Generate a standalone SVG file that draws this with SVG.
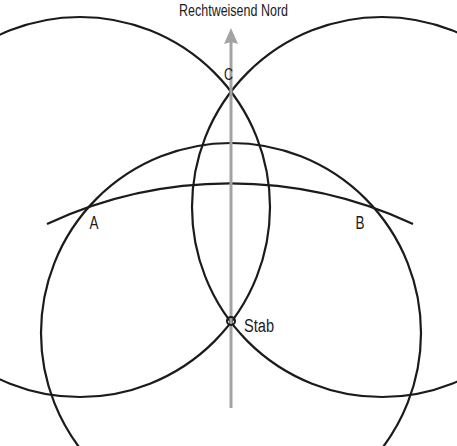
<svg xmlns="http://www.w3.org/2000/svg" width="457" height="446" viewBox="0 0 457 446">
  <style>
    .arc { fill: none; stroke: #1c1a1b; stroke-width: 2.2; }
    .lbl { font-family: "Liberation Sans", Arial, sans-serif; fill: #1c1a1b; }
    .north { stroke: #a3a3a3; stroke-width: 3; fill: none; }
  </style>
  <rect width="457" height="446" fill="#ffffff"/>
  <g id="connectors">
    <circle class="arc" cx="80" cy="207" r="190"/>
    <circle class="arc" cx="382" cy="207" r="190"/>
    <circle class="arc" cx="231" cy="333" r="190"/>
    <path class="arc" d="M 47 224 A 433 433 0 0 1 413 224"/>
  </g>
  <g id="north-arrow">
    <line class="north" x1="231" y1="408" x2="231" y2="40"/>
    <polygon points="231,28 238,44 231,42 224,44" fill="#a3a3a3"/>
    <text class="lbl" x="233.5" y="16" font-size="16" text-anchor="middle" textLength="109" lengthAdjust="spacingAndGlyphs">Rechtweisend Nord</text>
  </g>
  <g id="C">
    <text class="lbl" x="228.5" y="80" font-size="17" text-anchor="middle" textLength="9" lengthAdjust="spacingAndGlyphs">C</text>
  </g>
  <g id="A">
    <text class="lbl" x="94" y="229" font-size="18" text-anchor="middle" textLength="9" lengthAdjust="spacingAndGlyphs">A</text>
  </g>
  <g id="B">
    <text class="lbl" x="360" y="229" font-size="18" text-anchor="middle" textLength="9" lengthAdjust="spacingAndGlyphs">B</text>
  </g>
  <g id="Stab">
    <circle cx="231" cy="321" r="4" fill="none" stroke="#1c1a1b" stroke-width="2"/>
    <text class="lbl" x="244" y="332" font-size="18" textLength="30" lengthAdjust="spacingAndGlyphs">Stab</text>
  </g>
</svg>
